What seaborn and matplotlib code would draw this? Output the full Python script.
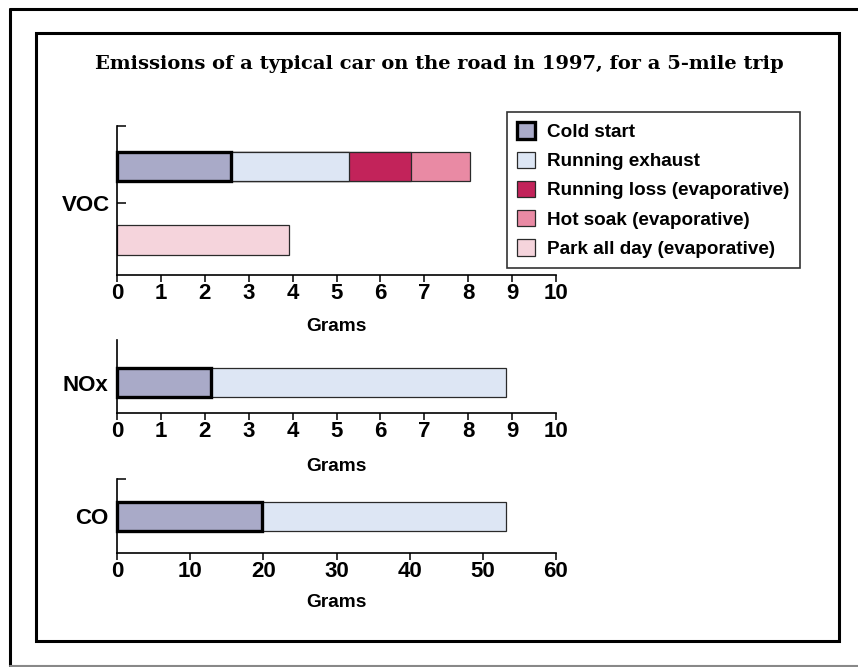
import numpy as np
import pandas as pd
import matplotlib
matplotlib.use("Agg")
import matplotlib.pyplot as plt
import seaborn as sns
from matplotlib.patches import Patch, Rectangle
from matplotlib.lines import Line2D
from matplotlib.ticker import FixedLocator

# ---------------- data ----------------
pollutants = ["VOC", "NOx", "CO"]
cold_start = [2.59, 2.15, 19.8]
running_exhaust = [2.70, 6.71, 33.4]
running_loss = [1.41, 0.0, 0.0]
hot_soak = [1.35, 0.0, 0.0]
park_all_day = [3.92, 0.0, 0.0]
x_max = [10, 10, 60]
x_step = [1, 1, 10]

segment_names = ["Cold start", "Running exhaust", "Running loss (evaporative)",
                 "Hot soak (evaporative)", "Park all day (evaporative)"]
colors = ["#A9AAC8", "#DDE6F4", "#C2235A", "#E98AA4", "#F5D4DC"]
title = "Emissions of a typical car on the road in 1997, for a 5-mile trip"

# ---------------- style ----------------
sns.set_theme(style="white")
plt.rcParams["font.family"] = ["Liberation Sans", "DejaVu Sans"]
plt.rcParams["font.weight"] = "bold"
for key in ["text.color", "axes.labelcolor", "xtick.color", "ytick.color", "axes.edgecolor"]:
    plt.rcParams[key] = "black"

W, H = 858, 667
fig = plt.figure(figsize=(W / 100, H / 100), dpi=100)
fig.patch.set_facecolor("white")


def px_axes(x0, y0, x1, y1):
    return fig.add_axes([x0 / W, 1 - y1 / H, (x1 - x0) / W, (y1 - y0) / H])


axes = [px_axes(117, 126, 556, 275), px_axes(117, 340, 556, 413), px_axes(117, 479, 556, 553)]
ylims = [(1.476, -0.551), (0.412, -0.581), (0.502, -0.509)]
top_tick = [True, False, True]

thin_ec = "#2a2a2a"
trip_segments = [cold_start, running_exhaust, running_loss, hot_soak]

for i, p in enumerate(pollutants):
    ax = axes[i]
    seg_vals = [s[i] for s in trip_segments]
    cum = np.cumsum(seg_vals)
    has_park = park_all_day[i] > 0
    rows = ["trip", "park"] if has_park else ["trip"]
    for k in reversed(range(len(seg_vals))):
        if seg_vals[k] <= 0:
            continue
        df = pd.DataFrame({"grams": [cum[k]], "row": ["trip"]})
        sns.barplot(data=df, x="grams", y="row", order=rows, orient="h",
                    color=colors[k], saturation=1, width=0.4, errorbar=None,
                    edgecolor="black" if k == 0 else thin_ec,
                    linewidth=2.4 if k == 0 else 0.9,
                    clip_on=False, zorder=3 + (len(seg_vals) - k), ax=ax)
    if has_park:
        df = pd.DataFrame({"grams": [park_all_day[i]], "row": ["park"]})
        sns.barplot(data=df, x="grams", y="row", order=rows, orient="h",
                    color=colors[4], saturation=1, width=0.4, errorbar=None,
                    edgecolor=thin_ec, linewidth=0.9, clip_on=False, zorder=3, ax=ax)

    ax.set_xlim(0, x_max[i])
    ax.set_ylim(*ylims[i])
    ax.set_facecolor("none")
    for s in ["top", "right"]:
        ax.spines[s].set_visible(False)
    for s in ["left", "bottom"]:
        ax.spines[s].set_color("black")
        ax.spines[s].set_linewidth(1.2)
        ax.spines[s].set_zorder(10)

    xt = np.arange(0, x_max[i] + 1, x_step[i])
    ax.set_xticks(xt)
    ax.set_xticklabels([str(v) for v in xt], fontsize=16, fontweight="bold")
    ax.tick_params(axis="x", which="major", direction="out", length=5, width=1.1,
                   color="black", pad=0.5, bottom=True)
    ax.set_xlabel("Grams", fontsize=13.8, fontweight="bold",
                  labelpad=[10.5, 12, 9][i])
    ax.set_ylabel("")

    if has_park:
        ax.set_yticks([0.5])
        ax.set_yticklabels([p], fontsize=16, fontweight="bold")
        ax.tick_params(axis="y", which="major", direction="in", length=6.5, width=1.1,
                       color="black", pad=5, left=True)
    else:
        ax.set_yticks([0])
        ax.set_yticklabels([p], fontsize=16, fontweight="bold")
        ax.tick_params(axis="y", which="major", direction="in", length=0, width=1.1,
                       color="black", pad=6, left=True)
    if top_tick[i]:
        ax.yaxis.set_minor_locator(FixedLocator([ylims[i][1]]))
        ax.tick_params(axis="y", which="minor", direction="in", length=6.5, width=1.1,
                       color="black", left=True)

# ---------------- legend ----------------
handles = []
for k, name in enumerate(segment_names):
    handles.append(Patch(facecolor=colors[k], edgecolor="black" if k == 0 else thin_ec,
                         linewidth=2.4 if k == 0 else 0.9, label=name))
leg = fig.legend(handles=handles, loc="upper left",
                 bbox_to_anchor=(507 / W, 1 - 112 / H), bbox_transform=fig.transFigure,
                 borderaxespad=0, frameon=True, fancybox=False,
                 prop={"family": "Liberation Sans", "weight": "bold", "size": 13.6},
                 handlelength=0.95, handleheight=0.95, handletextpad=0.62,
                 labelspacing=0.56, borderpad=0.55)
leg.get_frame().set_edgecolor("black")
leg.get_frame().set_linewidth(1.2)

# ---------------- title and frames ----------------
fig.text(439 / W, 1 - 69 / H, title, ha="center", va="baseline",
         fontsize=14, fontweight="bold", family=["DejaVu Serif"])

fig.add_artist(Rectangle((36 / W, 1 - 641 / H), (839 - 36) / W, (641 - 33) / H,
                         transform=fig.transFigure, fill=False, lw=2.2, ec="black"))
fig.add_artist(Line2D([9.5 / W, 9.5 / W], [1 - 666 / H, 1 - 9 / H],
                      transform=fig.transFigure, color="black", lw=2.2))
fig.add_artist(Line2D([9.5 / W, 1.0], [1 - 9 / H, 1 - 9 / H],
                      transform=fig.transFigure, color="black", lw=2.2))
fig.add_artist(Line2D([9.5 / W, 1.0], [1 - 665.5 / H, 1 - 665.5 / H],
                      transform=fig.transFigure, color="#888888", lw=1.5))

fig.savefig("out.png", dpi=100)
